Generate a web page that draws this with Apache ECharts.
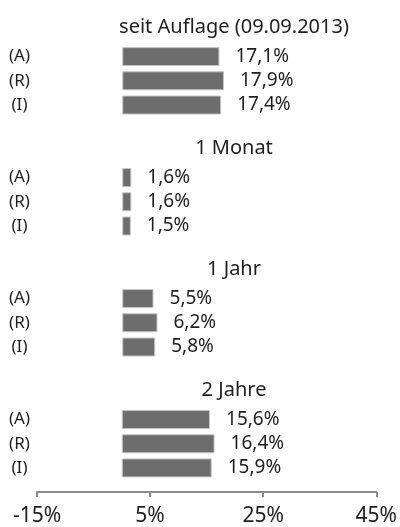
<!DOCTYPE html>
<html>
<head>
<meta charset="utf-8">
<script src="https://cdn.jsdelivr.net/npm/echarts@6/dist/echarts.min.js"></script>
<style>
  html, body { margin: 0; padding: 0; background: #fff; }
  #chart { width: 400px; height: 527px; }
</style>
</head>
<body>
<div id="chart"></div>
<script>
    'use strict';

    // values
    const periods = ['seit Auflage (09.09.2013)', '1 Monat', '1 Jahr', '2 Jahre'];
    const shareClasses = ['(A)', '(R)', '(I)'];
    const classA = [17.1, 1.6, 5.5, 15.6];
    const classR = [17.9, 1.6, 6.2, 16.4];
    const classI = [17.4, 1.5, 5.8, 15.9];
    const axisMin = -15;
    const axisMax = 45;
    const axisStep = 20;

    const fontFamily = '"Noto Sans", "Open Sans", sans-serif';
    const textColor = '#1e1e1e';
    const barColor = '#6d6d6d';

    const rowH = 24.2;
    const groupH = 121;
    const firstTop = 44.5;

    const fmt = v => v.toFixed(1).replace('.', ',') + '%';

    const chart = echarts.init(document.getElementById('chart'));

    const grids = [];
    const xAxes = [];
    const yAxes = [];
    const series = [];
    const titles = [];

    periods.forEach((name, i) => {
        const top = firstTop + groupH * i;
        const isLast = i === periods.length - 1;
        grids.push({ left: 37, right: 22, top: top, height: rowH * 3 });
        titles.push({
            text: name,
            left: 234,
            top: top - 27,
            textAlign: 'center',
            padding: 0,
            textStyle: { fontFamily, fontSize: 20, fontWeight: 'normal', color: textColor }
        });
        xAxes.push({
            gridIndex: i,
            type: 'value',
            min: axisMin,
            max: axisMax,
            interval: axisStep,
            show: isLast,
            offset: isLast ? 12 : 0,
            splitLine: { show: false },
            axisLine: { show: true, onZero: false, lineStyle: { color: '#8a8a8a', width: 2 } },
            axisTick: { show: true, length: 5, lineStyle: { color: '#8a8a8a', width: 2 } },
            axisLabel: {
                fontFamily,
                fontSize: 21,
                color: textColor,
                margin: 14,
                formatter: v => v + '%'
            }
        });
        yAxes.push({
            gridIndex: i,
            type: 'category',
            inverse: true,
            data: shareClasses,
            axisLine: { show: false, onZero: false },
            axisTick: { show: false },
            axisLabel: {
                fontFamily,
                fontSize: 17,
                color: textColor,
                align: 'center',
                margin: 17.5,
                padding: [0, 0, 4, 0]
            }
        });
        series.push({
            type: 'bar',
            xAxisIndex: i,
            yAxisIndex: i,
            barWidth: 19,
            data: [classA[i], classR[i], classI[i]],
            itemStyle: { color: barColor, borderColor: '#c4c4c4', borderWidth: 1 },
            label: {
                show: true,
                position: 'right',
                distance: 16,
                fontFamily,
                fontSize: 19,
                color: textColor,
                formatter: p => fmt(p.value)
            },
            silent: true,
            animation: false
        });
    });

    chart.setOption({
        animation: false,
        title: titles,
        grid: grids,
        xAxis: xAxes,
        yAxis: yAxes,
        series: series
    });
</script>
</body>
</html>
